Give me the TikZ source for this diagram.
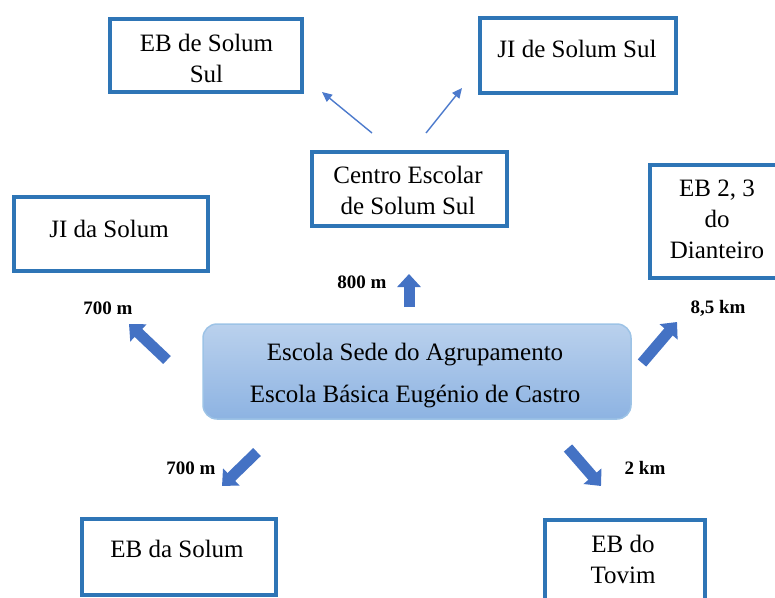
\documentclass[tikz,border=0pt]{standalone}
\usepackage{fontspec}
\setmainfont{Liberation Serif}
\usetikzlibrary{arrows.meta}
\definecolor{boxblue}{RGB}{46,117,182}
\definecolor{arrowblue}{RGB}{68,114,196}
\definecolor{thinblue}{RGB}{76,122,204}
\definecolor{maintop}{RGB}{186,209,237}
\definecolor{mainbot}{RGB}{141,179,226}
\definecolor{mainedge}{RGB}{157,195,230}
\tikzset{
  schoolbox/.style={draw=boxblue, line width=4pt, fill=white, inner sep=0pt},
  boxtext/.style={anchor=base, align=center, inner sep=0pt, font=\fontsize{25}{31}\selectfont},
  distlabel/.style={anchor=base, inner sep=0pt, font=\fontsize{19}{22}\selectfont\bfseries},
  fatarrow/.style={draw=arrowblue, line width=11pt, -{Triangle[width=23pt,length=13pt]}},
  thinarrow/.style={draw=thinblue, line width=1.4pt, -{Triangle[width=9pt,length=10pt]}},
  mainbox/.style={draw=mainedge, line width=1.5pt, rounded corners=14pt, top color=maintop, bottom color=mainbot, inner sep=0pt}
}
\begin{document}
\begin{tikzpicture}[x=1pt,y=-1pt]
\useasboundingbox (0,0) rectangle (775,597);
\clip (0,0) rectangle (775,597);

% boxes
\node[schoolbox, minimum width=192pt, minimum height=73pt] (ebss) at (206,55.5) {};
\node[schoolbox, minimum width=196pt, minimum height=75pt] (jiss) at (578,55.5) {};
\node[schoolbox, minimum width=195pt, minimum height=74pt] (centro) at (409.5,189) {};
\node[schoolbox, minimum width=194pt, minimum height=74pt] (jids) at (111,234) {};
\node[schoolbox, minimum width=140pt, minimum height=113pt] (dian) at (720,221.5) {};
\node[schoolbox, minimum width=194pt, minimum height=76pt] (ebds) at (179,557) {};
\node[schoolbox, minimum width=160pt, minimum height=90pt] (tovim) at (625,565) {};
\node[mainbox, minimum width=428pt, minimum height=95pt] (sede) at (417,371.5) {};

% box texts (anchor base = baseline of last line)
\node[boxtext] (ebss-t) at (206.5,82) {EB de Solum\\Sul};
\node[boxtext] (jiss-t) at (577,57) {JI de Solum Sul};
\node[boxtext] (centro-t) at (408,214) {Centro Escolar\\de Solum Sul};
\node[boxtext] (jids-t) at (109,237) {JI da Solum};
\node[boxtext] (dian-t) at (717,258) {EB 2, 3\\do\\Dianteiro};
\node[boxtext] (ebds-t) at (177,557) {EB da Solum};
\node[boxtext] (tovim-t) at (623,583) {EB do\\Tovim};
\node[boxtext] (sede-t) at (415,402) {Escola Sede do Agrupamento\\[11pt]Escola Básica Eugénio de Castro};

% distance labels
\node[distlabel] (d800) at (362,288) {800 m};
\node[distlabel] (d700a) at (108,314) {700 m};
\node[distlabel] (d85) at (718,313) {8,5 km};
\node[distlabel] (d700b) at (191,474) {700 m};
\node[distlabel] (d2) at (645,474) {2 km};

% arrow end points
\coordinate (upA) at (409,307);  \coordinate (upB) at (409,274);
\coordinate (nwA) at (167,360);  \coordinate (nwB) at (129,324);
\coordinate (neA) at (642,363);  \coordinate (neB) at (677,322);
\coordinate (swA) at (257,452);  \coordinate (swB) at (222,486);
\coordinate (seA) at (568,448);  \coordinate (seB) at (601,486);
\coordinate (t1A) at (372,133);  \coordinate (t1B) at (322,92);
\coordinate (t2A) at (426,133);  \coordinate (t2B) at (462,88);

\draw[fatarrow] (upA) -- (upB);
\draw[fatarrow] (nwA) -- (nwB);
\draw[fatarrow] (neA) -- (neB);
\draw[fatarrow] (swA) -- (swB);
\draw[fatarrow] (seA) -- (seB);
\draw[thinarrow] (t1A) -- (t1B);
\draw[thinarrow] (t2A) -- (t2B);
\end{tikzpicture}
\end{document}
